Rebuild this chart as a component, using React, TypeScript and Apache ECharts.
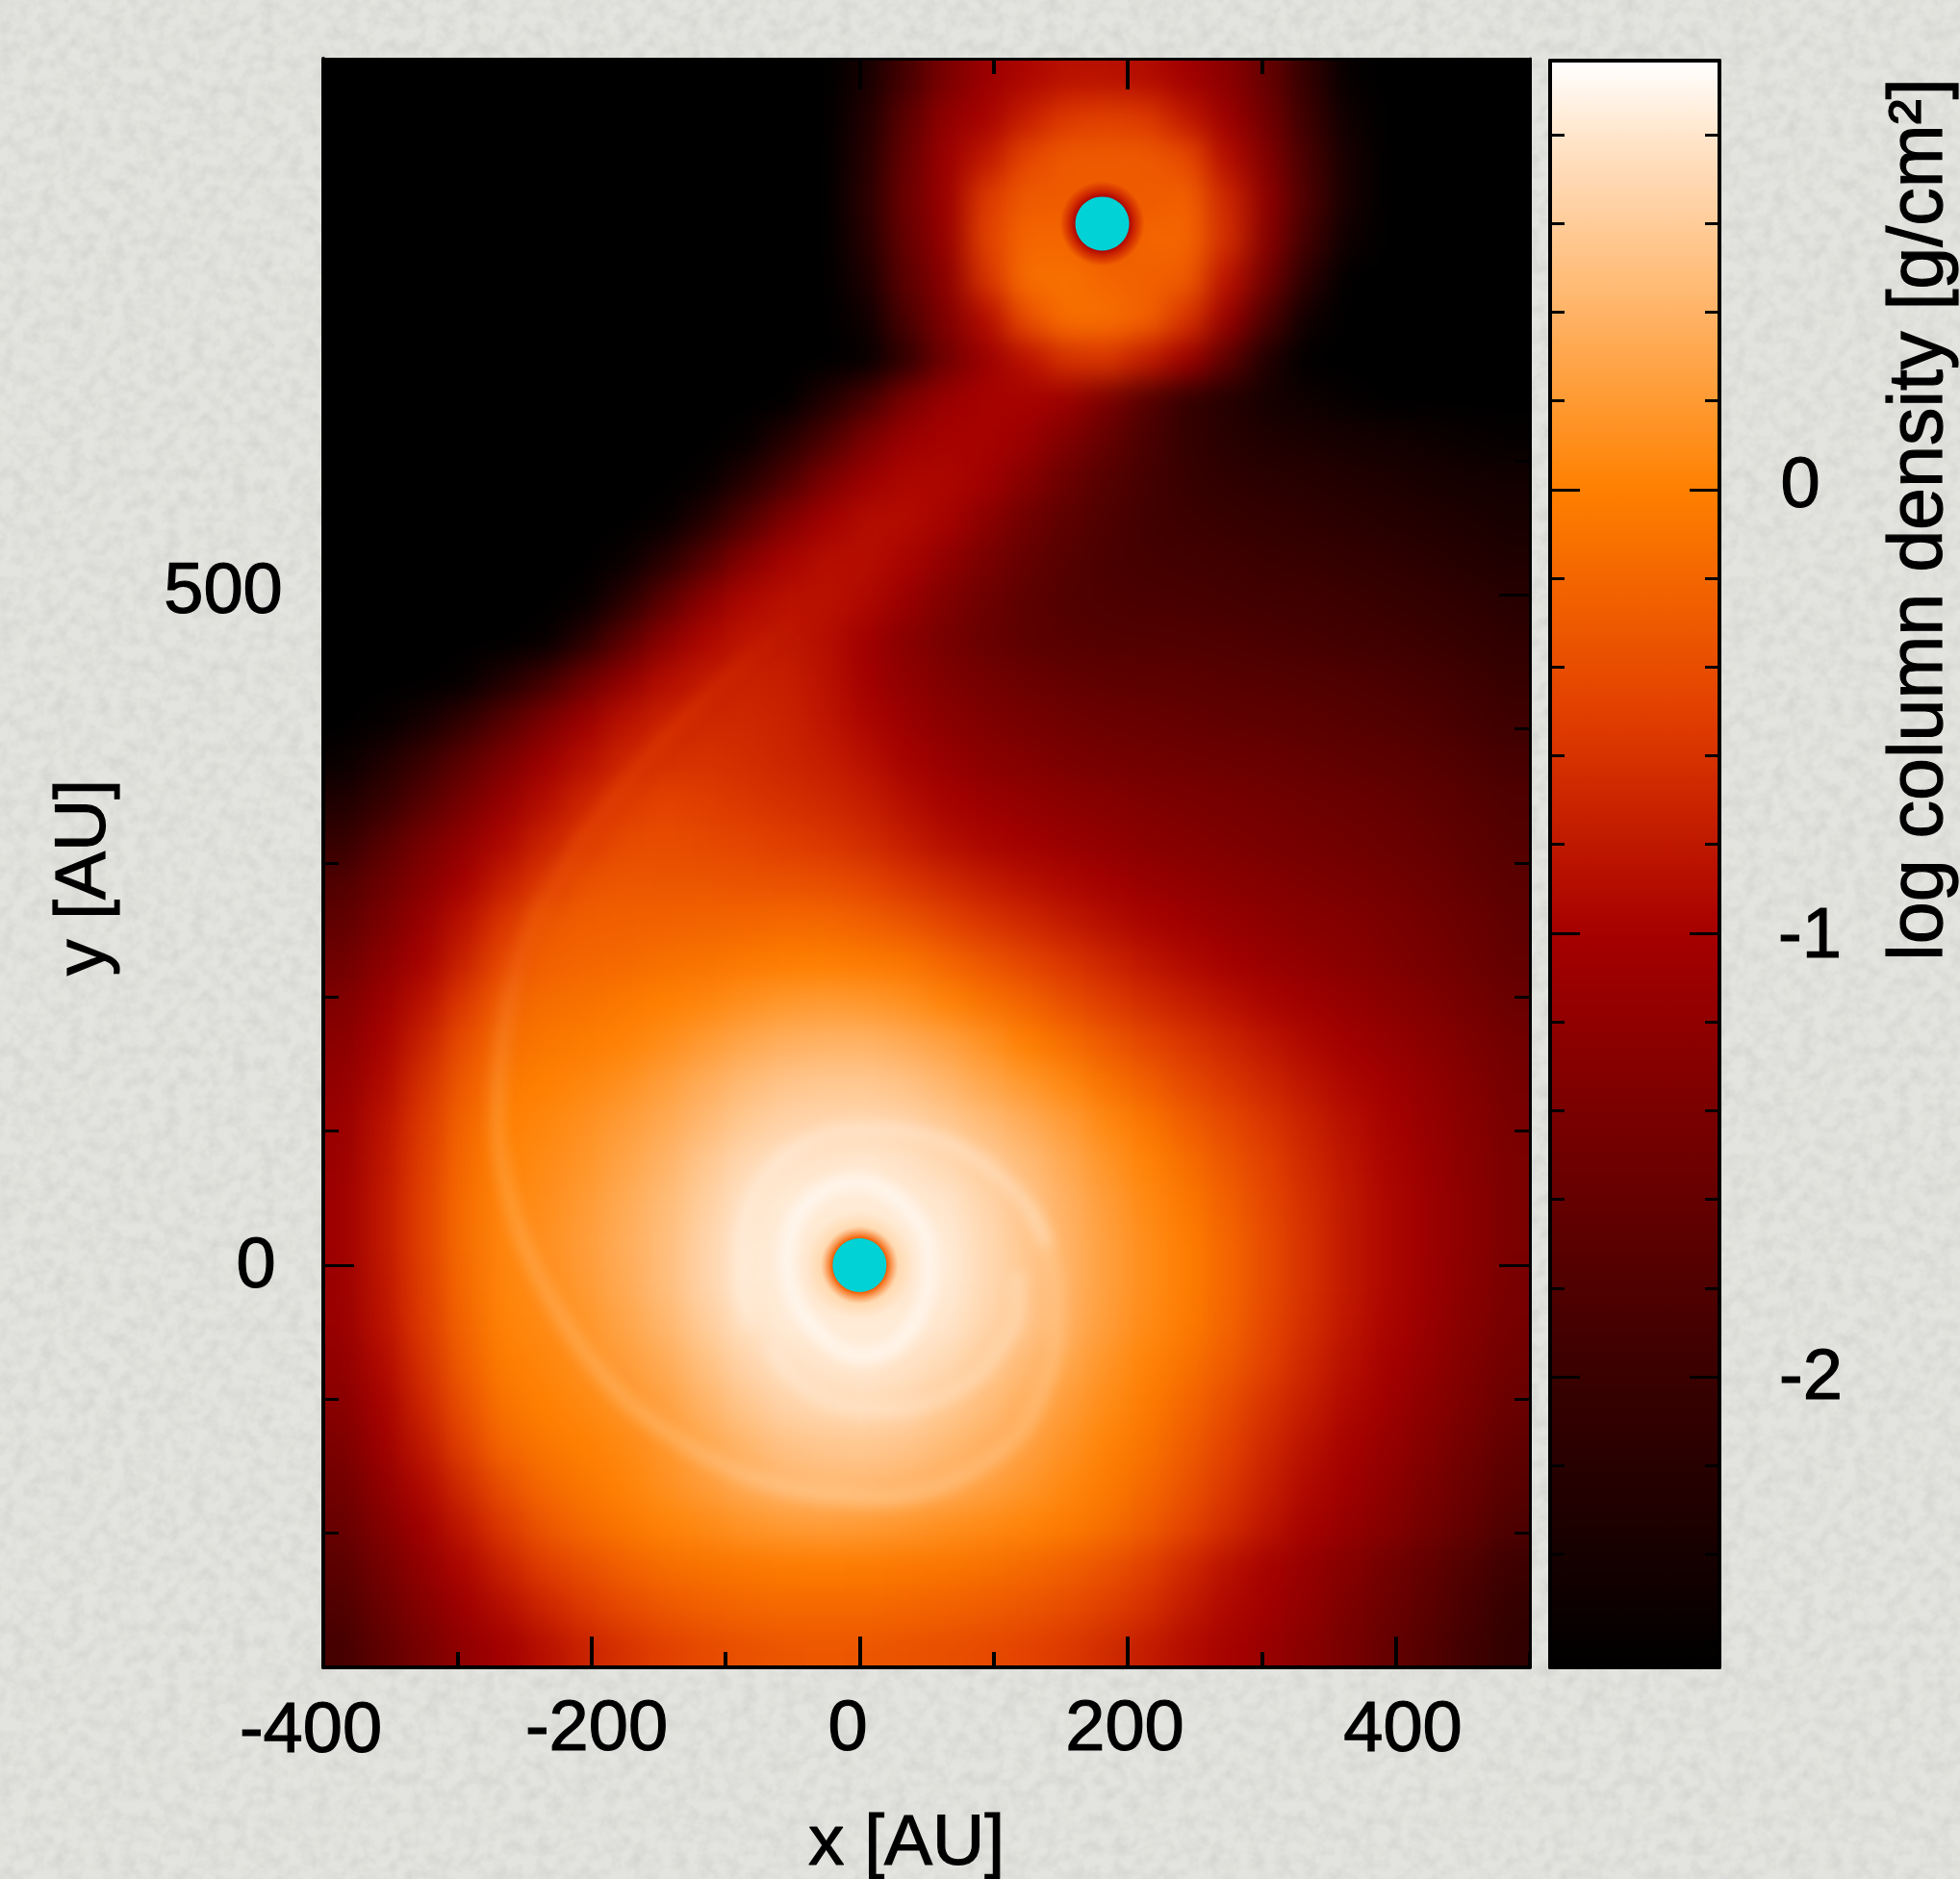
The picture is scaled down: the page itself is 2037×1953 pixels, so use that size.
import React, { useEffect, useRef } from "react";
import * as echarts from "echarts";

const B = -2.65;
// log column density: 30 columns (x -400..500) by 40 rows (y 900..-300)
const logDensityRows: number[][] = [
[B,B,B,B,B,B,B,B,B,B,B,B,B,-2.4,-1.9,-1.4,-1.1,-.95,-.85,-.85,-.9,-1.05,-1.25,-1.6,-2.1,-2.6,B,B,B,B],
[B,B,B,B,B,B,B,B,B,B,B,B,B,-2.3,-1.7,-1.2,-1,-.75,-.55,-.5,-.55,-.8,-1.1,-1.5,-2,-2.5,B,B,B,B],
[B,B,B,B,B,B,B,B,B,B,B,B,B,-2.25,-1.6,-1.1,-.8,-.45,-.3,-.3,-.3,-.42,-.9,-1.35,-1.9,-2.4,B,B,B,B],
[B,B,B,B,B,B,B,B,B,B,B,B,B,-2.2,-1.55,-1.1,-.55,-.3,-.3,-.3,-.3,-.25,-.7,-1.25,-1.85,-2.4,B,B,B,B],
[B,B,B,B,B,B,B,B,B,B,B,B,B,-2.25,-1.6,-1.15,-.5,-.2,-.2,-.35,-.2,-.2,-.65,-1.3,-1.95,-2.5,B,B,B,B],
[B,B,B,B,B,B,B,B,B,B,B,B,B,-2.35,-1.7,-1.25,-.6,-.14,-.12,-.2,-.25,-.3,-.85,-1.5,-2.2,B,B,B,B,B],
[B,B,B,B,B,B,B,B,B,B,B,B,B,-2.5,-1.85,-1.35,-.9,-.4,-.14,-.14,-.25,-.6,-1.15,-1.85,-2.5,B,B,B,B,B],
[B,B,B,B,B,B,B,B,B,B,B,B,B,-2.6,-2.1,-1.5,-1.1,-.85,-.62,-.58,-.78,-1.1,-1.7,-2.3,B,B,B,B,B,B],
[B,B,B,B,B,B,B,B,B,B,B,B,-2.3,-1.9,-1.4,-1.1,-1,-1,-1.1,-1.4,-1.75,-2.05,-2.25,-2.4,-2.5,-2.6,B,B,B,B],
[B,B,B,B,B,B,B,B,B,B,-2.6,-2.25,-1.85,-1.4,-1.1,-1,-1,-1.1,-1.35,-1.6,-1.85,-2.05,-2.2,-2.3,-2.35,-2.4,-2.45,-2.5,-2.55,-2.6],
[B,B,B,B,B,B,B,B,B,-2.6,-2.25,-1.85,-1.4,-1.1,-.95,-.95,-1.05,-1.3,-1.55,-1.75,-1.9,-2.03,-2.12,-2.18,-2.22,-2.28,-2.33,-2.38,-2.42,-2.45],
[B,B,B,B,B,B,B,B,-2.6,-2.25,-1.8,-1.35,-1.05,-.9,-.9,-1,-1.25,-1.5,-1.68,-1.82,-1.92,-1.98,-2.03,-2.08,-2.13,-2.18,-2.23,-2.28,-2.33,-2.38],
[B,B,B,B,B,B,B,-2.55,-2.2,-1.75,-1.3,-1,-.88,-.88,-.98,-1.2,-1.42,-1.6,-1.75,-1.85,-1.9,-1.92,-1.95,-2,-2.02,-2.08,-2.12,-2.18,-2.25,-2.3],
[B,B,B,B,B,B,-2.6,-2.2,-1.7,-1.25,-.95,-.85,-.85,-.93,-1.12,-1.35,-1.53,-1.68,-1.78,-1.83,-1.85,-1.87,-1.9,-1.92,-1.95,-1.98,-2.03,-2.08,-2.13,-2.2],
[B,B,B,B,B,-2.6,-2.2,-1.7,-1.25,-.95,-.82,-.8,-.88,-1.05,-1.27,-1.43,-1.58,-1.68,-1.73,-1.77,-1.78,-1.8,-1.82,-1.85,-1.88,-1.92,-1.95,-2,-2.05,-2.12],
[B,B,B,-2.6,-2.3,-1.95,-1.55,-1.2,-.9,-.78,-.72,-.75,-.85,-1.03,-1.2,-1.35,-1.46,-1.55,-1.61,-1.66,-1.68,-1.7,-1.73,-1.75,-1.78,-1.81,-1.85,-1.9,-1.96,-2.03],
[B,-2.6,-2.4,-2.1,-1.75,-1.4,-1.1,-.85,-.72,-.68,-.68,-.72,-.82,-.96,-1.1,-1.25,-1.36,-1.44,-1.5,-1.55,-1.58,-1.61,-1.64,-1.67,-1.7,-1.74,-1.78,-1.83,-1.9,-1.96],
[-2.55,-2.3,-2,-1.7,-1.4,-1.1,-.88,-.7,-.62,-.6,-.64,-.7,-.76,-.86,-1,-1.13,-1.25,-1.33,-1.4,-1.45,-1.48,-1.51,-1.54,-1.57,-1.61,-1.65,-1.69,-1.74,-1.81,-1.88],
[-2.3,-2.05,-1.75,-1.45,-1.15,-.9,-.7,-.55,-.48,-.52,-.57,-.62,-.68,-.76,-.88,-1,-1.1,-1.18,-1.25,-1.3,-1.36,-1.4,-1.44,-1.47,-1.52,-1.56,-1.6,-1.66,-1.73,-1.8],
[-2.05,-1.75,-1.45,-1.2,-.95,-.72,-.55,-.42,-.4,-.44,-.47,-.52,-.57,-.65,-.77,-.88,-.97,-1.05,-1.13,-1.2,-1.27,-1.32,-1.37,-1.42,-1.46,-1.5,-1.55,-1.6,-1.68,-1.76],
[-1.8,-1.55,-1.3,-1.02,-.77,-.55,-.37,-.32,-.34,-.34,-.35,-.37,-.4,-.47,-.58,-.68,-.78,-.87,-.95,-1.03,-1.13,-1.2,-1.26,-1.32,-1.37,-1.42,-1.47,-1.54,-1.62,-1.7],
[-1.65,-1.4,-1.12,-.85,-.57,-.33,-.27,-.25,-.23,-.22,-.2,-.18,-.19,-.25,-.34,-.46,-.58,-.68,-.78,-.88,-.98,-1.07,-1.15,-1.22,-1.28,-1.33,-1.4,-1.47,-1.56,-1.65],
[-1.5,-1.25,-1,-.72,-.42,-.25,-.2,-.18,-.13,-.1,-.05,-.02,-.01,-.04,-.08,-.2,-.33,-.46,-.58,-.7,-.82,-.92,-1.02,-1.12,-1.2,-1.27,-1.35,-1.43,-1.52,-1.62],
[-1.35,-1.1,-.85,-.55,-.25,-.15,-.12,-.06,0,.05,.12,.18,.2,.18,.13,.03,-.1,-.22,-.38,-.52,-.65,-.76,-.86,-.97,-1.07,-1.15,-1.25,-1.34,-1.45,-1.55],
[-1.25,-1,-.72,-.4,-.15,-.08,-.03,.02,.1,.2,.3,.37,.4,.4,.34,.26,.14,0,-.14,-.3,-.45,-.58,-.7,-.82,-.93,-1.05,-1.15,-1.25,-1.37,-1.48],
[-1.18,-.92,-.62,-.3,-.06,0,.05,.12,.23,.35,.46,.54,.57,.57,.52,.42,.3,.18,.06,-.1,-.27,-.43,-.57,-.7,-.83,-.95,-1.05,-1.18,-1.32,-1.45],
[-1.12,-.85,-.55,-.22,0,.05,.12,.22,.32,.45,.58,.66,.68,.69,.66,.58,.47,.35,.22,.07,-.08,-.27,-.43,-.58,-.73,-.87,-1,-1.14,-1.28,-1.42],
[-1.1,-.82,-.52,-.18,.02,.08,.16,.28,.4,.56,.7,.78,.8,.82,.78,.7,.6,.47,.32,.16,.02,-.14,-.33,-.5,-.68,-.83,-.97,-1.11,-1.26,-1.4],
[-1.08,-.8,-.5,-.16,.04,.1,.2,.33,.46,.62,.78,.84,.84,.84,.84,.8,.67,.54,.38,.22,.07,-.06,-.25,-.45,-.63,-.8,-.95,-1.09,-1.24,-1.4],
[-1.08,-.8,-.5,-.16,.05,.12,.22,.35,.48,.66,.82,.84,.8,.78,.82,.84,.7,.56,.4,.24,.1,-.02,-.2,-.42,-.62,-.8,-.95,-1.09,-1.24,-1.4],
[-1.1,-.82,-.52,-.18,.04,.1,.2,.33,.48,.66,.82,.84,.78,.76,.8,.84,.7,.56,.4,.24,.1,-.02,-.2,-.42,-.62,-.8,-.95,-1.1,-1.26,-1.42],
[-1.12,-.85,-.55,-.22,.02,.08,.16,.28,.42,.6,.76,.84,.84,.84,.84,.8,.67,.54,.38,.22,.08,-.04,-.22,-.45,-.64,-.82,-.97,-1.13,-1.3,-1.45],
[-1.2,-.92,-.62,-.28,-.03,.04,.12,.22,.33,.5,.66,.76,.8,.82,.78,.7,.58,.45,.3,.15,.02,-.12,-.3,-.5,-.7,-.87,-1.02,-1.18,-1.35,-1.5],
[-1.28,-1,-.7,-.38,-.1,0,.06,.15,.25,.4,.55,.66,.7,.72,.68,.58,.48,.36,.22,.09,-.04,-.2,-.4,-.6,-.77,-.93,-1.08,-1.25,-1.4,-1.57],
[-1.38,-1.08,-.8,-.5,-.2,-.08,0,.07,.17,.3,.42,.52,.56,.57,.54,.46,.37,.26,.14,.02,-.1,-.28,-.48,-.68,-.85,-1,-1.15,-1.32,-1.48,-1.65],
[-1.48,-1.2,-.92,-.65,-.38,-.18,-.07,.02,.12,.22,.33,.41,.45,.45,.41,.35,.26,.17,.06,-.04,-.18,-.36,-.56,-.75,-.92,-1.07,-1.22,-1.4,-1.56,-1.73],
[-1.58,-1.32,-1.05,-.8,-.55,-.33,-.18,-.07,.02,.08,.15,.2,.22,.2,.17,.12,.08,.03,-.03,-.13,-.28,-.47,-.65,-.83,-1,-1.15,-1.3,-1.47,-1.63,-1.82],
[-1.7,-1.45,-1.18,-.95,-.72,-.52,-.38,-.25,-.15,-.1,-.06,-.03,-.02,-.03,-.05,-.08,-.12,-.17,-.25,-.35,-.5,-.68,-.85,-1,-1.15,-1.3,-1.47,-1.63,-1.8,-1.97],
[-1.8,-1.55,-1.3,-1.08,-.88,-.7,-.55,-.42,-.32,-.25,-.2,-.18,-.18,-.18,-.2,-.23,-.28,-.33,-.4,-.5,-.62,-.78,-.93,-1.05,-1.2,-1.38,-1.53,-1.7,-1.87,-2.05],
[-1.9,-1.65,-1.42,-1.2,-1.03,-.87,-.72,-.6,-.5,-.42,-.37,-.33,-.32,-.33,-.35,-.38,-.42,-.48,-.55,-.65,-.77,-.9,-1,-1.12,-1.27,-1.43,-1.6,-1.77,-1.93,-2.1],
];

const colorbarStops: [number, number[]][] = [
  [-2.655, [0, 0, 0]], [-2, [58, 0, 0]], [-1, [166, 0, 0]], [-0.86, [184, 16, 0]],
  [-0.5, [226, 64, 0]], [0, [255, 128, 0]], [0.2, [255, 154, 51]], [0.4, [255, 179, 102]],
  [0.6, [255, 204, 153]], [0.8, [255, 230, 204]], [0.967, [255, 255, 255]],
];

const starPositions = [[0, 0], [181, 777]];
const innerRingAU = [[0,63],[-22,58],[-40,45],[-51,25],[-54,3],[-50,-20],[-38,-42],[-20,-60],[0,-68],[22,-63],[38,-48],[48,-28],[52,0],[48,25],[32,46],[15,58],[0,63]];
const lowerArcAU = [[118,-5],[118,-35],[103,-65],[82,-88],[55,-102],[28,-108],[0,-108],[-28,-100],[-52,-82],[-68,-60]];
const upperArcAU = [[-80,-45],[-88,-15],[-87,25],[-78,55],[-60,78],[-30,96],[0,102],[35,100],[70,90],[100,70],[125,45],[140,15]];
const spiralArmAU = [[125,45],[140,15],[147,-20],[147,-55],[138,-90],[120,-125],[90,-150],[55,-167],[18,-174],[-18,-172],[-55,-166],[-90,-155],[-133,-132],[-174,-101],[-205,-65],[-230,-26],[-250,15],[-263,58],[-270,105],[-268,151],[-261,198],[-249,244],[-225,290],[-193,338],[-158,380],[-118,421],[-82,455],[-44,487]];

const xTickLabels = ["-400", "-200", "0", "200", "400"];
const yTickLabels = ["500", "0"];
const colorbarTickLabels = ["0", "-1", "-2"];
const xMajorTicks = [-200, 0, 200, 400];
const yMajorTicks = [0, 500];
const colorbarMajorTicks = [-2, -1, 0];
const colorbarMinorTicks = [-2.6, -2.4, -2.2, -1.8, -1.6, -1.4, -1.2, -0.8, -0.6, -0.4, -0.2, 0.2, 0.4, 0.6, 0.8];
const xTitle = "x [AU]";
const yTitle = "y [AU]";
const colorbarTitle = "log column density [g/cm²]";

const FONT = '"Liberation Sans", Arial, sans-serif';
const PLOT = { left: 336, top: 61, width: 1254, height: 1672 };
const CB = { left: 1611, top: 63, width: 176, height: 1670 };
const PAD = 2;
const COLS = logDensityRows[0].length;
const ROWS = logDensityRows.length;

function palette(n: number): string[] {
  const lo = colorbarStops[0][0];
  const hi = colorbarStops[colorbarStops.length - 1][0];
  const out: string[] = [];
  for (let i = 0; i < n; i++) {
    const v = lo + ((hi - lo) * i) / (n - 1);
    let k = 0;
    while (k < colorbarStops.length - 2 && v > colorbarStops[k + 1][0]) k++;
    const [a, ca] = colorbarStops[k];
    const [b, cb] = colorbarStops[k + 1];
    const t = Math.min(1, Math.max(0, (v - a) / (b - a)));
    out.push(`rgb(${ca.map((c, j) => Math.round(c + (cb[j] - c) * t)).join(",")})`);
  }
  return out;
}
const PALETTE = palette(61);
const LO = colorbarStops[0][0];
const HI = colorbarStops[colorbarStops.length - 1][0];

const noise =
  "url(\"data:image/svg+xml;utf8," +
  encodeURIComponent(
    "<svg xmlns='http://www.w3.org/2000/svg' width='600' height='600'><filter id='n' x='0' y='0' width='100%' height='100%'><feTurbulence type='fractalNoise' baseFrequency='0.07' numOctaves='3' stitchTiles='stitch'/><feColorMatrix values='0 0 0 0 0.6 0 0 0 0 0.6 0 0 0 0 0.58 1.1 0 0 0 -0.4'/></filter><rect width='600' height='600' filter='url(#n)'/></svg>"
  ) +
  "\")";

const ticksAxis = (extra: any, line: any, len: number, width: number, custom?: number[]) => ({
  type: "value",
  z: 6,
  splitLine: { show: false },
  axisLabel: { show: false },
  axisLine: { show: !!line, onZero: false, lineStyle: { color: "#000", width: line || 1 } },
  axisTick: { show: len > 0, inside: true, length: len, lineStyle: { color: "#000", width }, ...(custom ? { customValues: custom } : {}) },
  ...extra,
});

const text = (t: string, x: number, y: number, size = 74, rotation = 0) => ({
  type: "text",
  x,
  y,
  rotation,
  z: 10,
  style: { text: t, font: `${size}px ${FONT}`, fill: "#000", stroke: "#000", lineWidth: 1.2, align: "center", verticalAlign: "middle" },
});

function heatOption() {
  const xs: number[] = [];
  const ys: number[] = [];
  for (let c = -PAD; c < COLS + PAD; c++) xs.push(c);
  for (let r = -PAD; r < ROWS + PAD; r++) ys.push(r);
  const data: number[][] = [];
  ys.forEach((r, ri) =>
    xs.forEach((c, ci) => {
      const rr = Math.min(ROWS - 1, Math.max(0, r));
      const cc = Math.min(COLS - 1, Math.max(0, c));
      data.push([ci, ri, logDensityRows[rr][cc]]);
    })
  );
  return {
    animation: false,
    grid: { left: 0, right: 0, top: 0, bottom: 0 },
    xAxis: { type: "category", data: xs, show: false },
    yAxis: { type: "category", data: ys, show: false, inverse: true },
    visualMap: { show: false, min: LO, max: HI, inRange: { color: PALETTE }, dimension: 2 },
    series: [{ type: "heatmap", data, silent: true, progressive: 0, itemStyle: { borderWidth: 0 } }],
  };
}

function ridgeOption() {
  const line = (data: number[][], color: any, width: number) => ({
    type: "line", data, smooth: 0.35, showSymbol: false, symbol: "none", silent: true,
    lineStyle: { color, width },
  });
  const armColor = {
    type: "linear", x: 0, y: 0, x2: 0, y2: 1,
    colorStops: [
      { offset: 0, color: "rgba(255,90,0,0)" },
      { offset: 0.12, color: "rgba(255,90,0,0.2)" },
      { offset: 0.36, color: "rgba(255,120,30,0.2)" },
      { offset: 0.55, color: "rgba(255,225,185,0.2)" },
      { offset: 1, color: "rgba(255,235,205,0.26)" },
    ],
  };
  return {
    animation: false,
    grid: { left: 0, top: 0, right: 0, bottom: 0 },
    xAxis: { type: "value", min: -400, max: 500, show: false },
    yAxis: { type: "value", min: -300, max: 900, show: false },
    series: [
      line(innerRingAU, "rgba(255,255,255,0.62)", 15),
      line(lowerArcAU, "rgba(255,250,240,0.3)", 13),
      line(upperArcAU, "rgba(255,245,235,0.4)", 13),
      line(spiralArmAU, armColor, 16),
    ],
  };
}

function frameOption() {
  const g = (inner: string, outer: string, a: number, b: number) => ({
    type: "radial", x: 0.5, y: 0.5, r: 0.5,
    colorStops: [{ offset: 0, color: inner }, { offset: a, color: inner }, { offset: b, color: outer.replace("A", "0.75") }, { offset: 1, color: outer.replace("A", "0") }],
  });
  const xOpt = { min: -400, max: 500, interval: 100, gridIndex: 0 };
  const yOpt = { min: -300, max: 900, interval: 100, gridIndex: 0 };
  const cbY = { min: LO, max: HI, gridIndex: 1 };
  const cbX = { min: 0, max: 1, gridIndex: 1 };
  return {
    animation: false,
    backgroundColor: "transparent",
    grid: [
      { left: PLOT.left, top: PLOT.top, width: PLOT.width, height: PLOT.height },
      { left: CB.left, top: CB.top, width: CB.width, height: CB.height },
    ],
    visualMap: {
      type: "continuous", seriesIndex: [], min: LO, max: HI, inRange: { color: PALETTE },
      calculable: false, hoverLink: false, left: CB.left, top: CB.top, itemWidth: CB.width, itemHeight: CB.height,
      padding: 0, text: null, showLabel: false, z: 1, formatter: () => "",
    },
    xAxis: [
      ticksAxis({ ...xOpt, position: "bottom" }, 4, 16, 4),
      ticksAxis({ ...xOpt, position: "bottom" }, 0, 32, 4, xMajorTicks),
      ticksAxis({ ...xOpt, position: "top" }, 3, 16, 4),
      ticksAxis({ ...xOpt, position: "top" }, 0, 32, 4, xMajorTicks),
      ticksAxis({ ...cbX, position: "bottom" }, 4, 0, 0),
      ticksAxis({ ...cbX, position: "top" }, 4, 0, 0),
    ],
    yAxis: [
      ticksAxis({ ...yOpt, position: "left" }, 4, 16, 3),
      ticksAxis({ ...yOpt, position: "left" }, 0, 32, 3, yMajorTicks),
      ticksAxis({ ...yOpt, position: "right" }, 3, 16, 3),
      ticksAxis({ ...yOpt, position: "right" }, 0, 32, 3, yMajorTicks),
      ticksAxis({ ...cbY, position: "left" }, 4, 15, 3, colorbarMinorTicks),
      ticksAxis({ ...cbY, position: "left" }, 0, 31, 3, colorbarMajorTicks),
      ticksAxis({ ...cbY, position: "right" }, 4, 15, 3, colorbarMinorTicks),
      ticksAxis({ ...cbY, position: "right" }, 0, 31, 3, colorbarMajorTicks),
    ],
    series: [
      {
        type: "scatter", silent: true, z: 2, xAxisIndex: 0, yAxisIndex: 0,
        data: [
          { value: starPositions[0], symbolSize: 112, itemStyle: { opacity: 1, color: g("#f35c00", "rgba(255,215,170,A)", 0.5, 0.72) } },
          { value: starPositions[1], symbolSize: 88, itemStyle: { opacity: 1, color: g("#a80000", "rgba(200,30,0,A)", 0.62, 0.8) } },
        ],
      },
      {
        type: "scatter", silent: true, z: 3, xAxisIndex: 0, yAxisIndex: 0, symbolSize: 56,
        itemStyle: { color: "#00d2d5", opacity: 1 }, data: starPositions,
      },
    ],
    graphic: [
      text(xTickLabels[0], 323, 1795), text(xTickLabels[1], 620, 1793), text(xTickLabels[2], 881, 1793),
      text(xTickLabels[3], 1169, 1793), text(xTickLabels[4], 1458, 1794),
      text(yTickLabels[0], 232, 611), text(yTickLabels[1], 266, 1312),
      text(colorbarTickLabels[0], 1871, 501), text(colorbarTickLabels[1], 1881, 969), text(colorbarTickLabels[2], 1882, 1428),
      text(xTitle, 942, 1912, 75),
      text(yTitle, 83, 912, 75, Math.PI / 2),
      text(colorbarTitle, 1990, 540, 79, Math.PI / 2),
    ],
  };
}

export default function App() {
  const heatRef = useRef<HTMLDivElement>(null);
  const ridgeRef = useRef<HTMLDivElement>(null);
  const frameRef = useRef<HTMLDivElement>(null);
  useEffect(() => {
    document.body.style.margin = "0";
    const charts = [
      echarts.init(heatRef.current!, undefined, { renderer: "svg" }),
      echarts.init(ridgeRef.current!, undefined, { renderer: "svg" }),
      echarts.init(frameRef.current!, undefined, { renderer: "svg" }),
    ];
    charts[0].setOption(heatOption() as any);
    charts[1].setOption(ridgeOption() as any);
    charts[2].setOption(frameOption() as any);
    return () => charts.forEach((c) => c.dispose());
  }, []);
  const cw = PLOT.width / COLS;
  const ch = PLOT.height / ROWS;
  return (
    <div style={{ position: "absolute", left: 0, top: 0, width: 2037, height: 1953, overflow: "hidden", backgroundColor: "#e3e4df", backgroundImage: noise }}>
      <div style={{ position: "absolute", left: PLOT.left, top: PLOT.top, width: PLOT.width, height: PLOT.height, overflow: "hidden", background: "#000" }}>
        <div
          ref={heatRef}
          style={{ position: "absolute", left: -PAD * cw, top: -PAD * ch, width: (COLS + 2 * PAD) * cw, height: (ROWS + 2 * PAD) * ch, filter: "blur(15px)" }}
        />
        <div ref={ridgeRef} style={{ position: "absolute", left: 0, top: 0, width: PLOT.width, height: PLOT.height, filter: "blur(7px)" }} />
      </div>
      <div ref={frameRef} style={{ position: "absolute", left: 0, top: 0, width: 2037, height: 1953 }} />
    </div>
  );
}
